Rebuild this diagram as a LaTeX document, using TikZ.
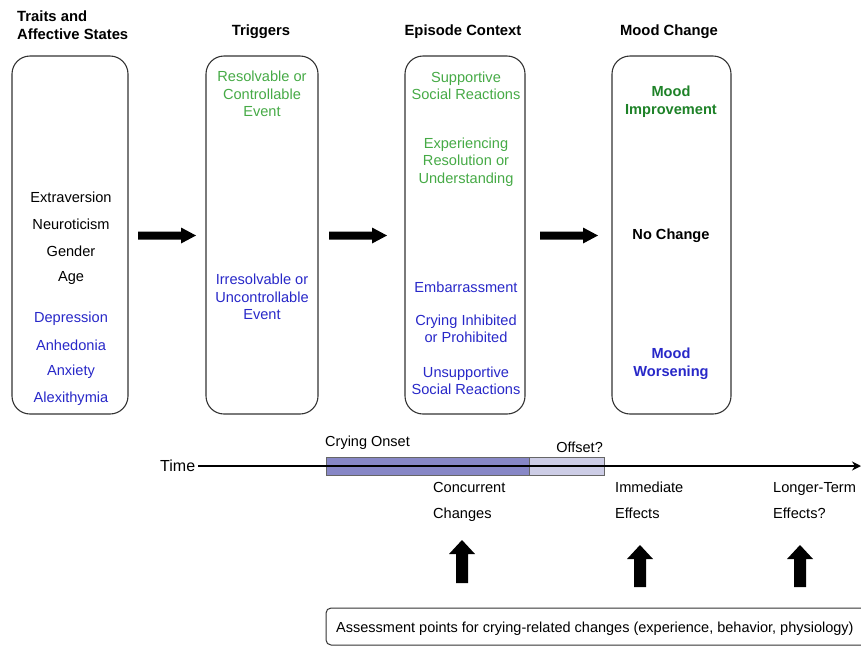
\documentclass[tikz,border=0pt]{standalone}
\usepackage{fontspec}
\setmainfont{Liberation Sans}
\usetikzlibrary{arrows.meta}
\definecolor{lgreen}{RGB}{70,170,70}
\definecolor{dgreen}{RGB}{30,130,40}
\definecolor{tblue}{RGB}{40,40,200}
\definecolor{bardark}{RGB}{135,135,198}
\definecolor{barlight}{RGB}{205,205,230}
\tikzset{
  panel/.style={draw=black!80, line width=1.1pt, rounded corners=18pt},
  hdr/.style={font=\fontsize{14.8}{18}\selectfont\bfseries, inner sep=0pt},
  itm/.style={font=\fontsize{14.6}{17.5}\selectfont, inner sep=0pt, align=center},
  bitm/.style={font=\fontsize{14.6}{18}\selectfont\bfseries, inner sep=0pt, align=center},
  tl/.style={font=\fontsize{14.6}{26}\selectfont, inner sep=0pt, align=left, anchor=north west},
  fatarrow/.style={fill=black, draw=none},
}
\begin{document}
\begin{tikzpicture}[x=1pt,y=-1pt]
\useasboundingbox (0,0) rectangle (861,646);
% headers
\node[hdr, anchor=west, align=left, font=\fontsize{14.8}{18}\selectfont\bfseries] (h1) at (17,25) {Traits and\\Affective States};
\node[hdr] (h2) at (261,32) {Triggers};
\node[hdr] (h3) at (463,32) {Episode Context};
\node[hdr] (h4) at (669,32) {Mood Change};
% panels
\draw[panel] (12,56) rectangle (128,414);
\draw[panel] (206,56) rectangle (318,414);
\draw[panel] (405,56) rectangle (525,414);
\draw[panel] (612,56) rectangle (731,414);
% box 1
\node[itm] (e1) at (71,197) {Extraversion};
\node[itm] (e2) at (71,224) {Neuroticism};
\node[itm] (e3) at (71,251) {Gender};
\node[itm] (e4) at (71,278) {Age};
\node[itm, text=tblue] (e5) at (71,319) {Depression};
\node[itm, text=tblue] (e6) at (71,345) {Anhedonia};
\node[itm, text=tblue] (e7) at (71,372) {Anxiety};
\node[itm, text=tblue] (e8) at (71,399) {Alexithymia};
% box 2
\node[itm, text=lgreen] (t1) at (262,94) {Resolvable or\\Controllable\\Event};
\node[itm, text=tblue] (t2) at (262,297) {Irresolvable or\\Uncontrollable\\Event};
% box 3
\node[itm, text=lgreen] (c1) at (466,86) {Supportive\\Social Reactions};
\node[itm, text=lgreen] (c2) at (466,162) {Experiencing\\Resolution or\\Understanding};
\node[itm, text=tblue] (c3) at (466,287) {Embarrassment};
\node[itm, text=tblue] (c4) at (466,329) {Crying Inhibited\\or Prohibited};
\node[itm, text=tblue] (c5) at (466,381) {Unsupportive\\Social Reactions};
% box 4
\node[bitm, text=dgreen] (m1) at (671,102) {Mood\\Improvement};
\node[bitm] (m2) at (671,236) {No Change};
\node[bitm, text=tblue] (m3) at (671,364) {Mood\\Worsening};
% right arrows
\foreach \xa/\xb in {138/196, 329/387, 540/598}{
  \fill[fatarrow] (\xa,231.5) -- (\xb-15,231.5) -- (\xb-15,227.5) -- (\xb,235.5) -- (\xb-15,243.5) -- (\xb-15,239.5) -- (\xa,239.5) -- cycle;
}
% timeline
\node[font=\fontsize{16}{18}\selectfont, inner sep=0pt, anchor=west] (time) at (160,466) {Time};
\coordinate (tend) at (861,466);
\fill[bardark, draw=black!60, line width=0.6pt] (326,457) rectangle (529,475);
\fill[barlight, draw=black!60, line width=0.6pt] (529,457) rectangle (604,475);
\draw[line width=1.8pt, -{Stealth[length=9pt,width=9pt]}] (time.east) ++(3,0) -- (tend);
\node[font=\fontsize{14.5}{16}\selectfont, inner sep=0pt, anchor=west] (onset) at (325,443) {Crying Onset};
\node[font=\fontsize{14.5}{16}\selectfont, inner sep=0pt, anchor=east] (offset) at (603,447) {Offset?};
\node[tl] (cc) at (433,482) {Concurrent\\Changes};
\node[tl] (ie) at (615,482) {Immediate\\Effects};
\node[tl] (lt) at (773,482) {Longer-Term\\Effects?};
% up arrows
\foreach \xc/\yt/\yb in {462/540/583, 640/545/587, 800/545/587}{
  \fill[fatarrow] (\xc-6,\yb) -- (\xc-6,\yt+14) -- (\xc-13,\yt+14) -- (\xc,\yt) -- (\xc+13,\yt+14) -- (\xc+6,\yt+14) -- (\xc+6,\yb) -- cycle;
}
% bottom box
\begin{scope}
\clip (0,0) rectangle (861,646);
\draw[draw=black!80, line width=1pt, rounded corners=5pt] (326,608) rectangle (880,645);
\end{scope}
\node[font=\fontsize{14.5}{16}\selectfont, inner sep=0pt, anchor=west] (ap) at (336,629) {Assessment points for crying-related changes (experience, behavior, physiology)};
\end{tikzpicture}
\end{document}
